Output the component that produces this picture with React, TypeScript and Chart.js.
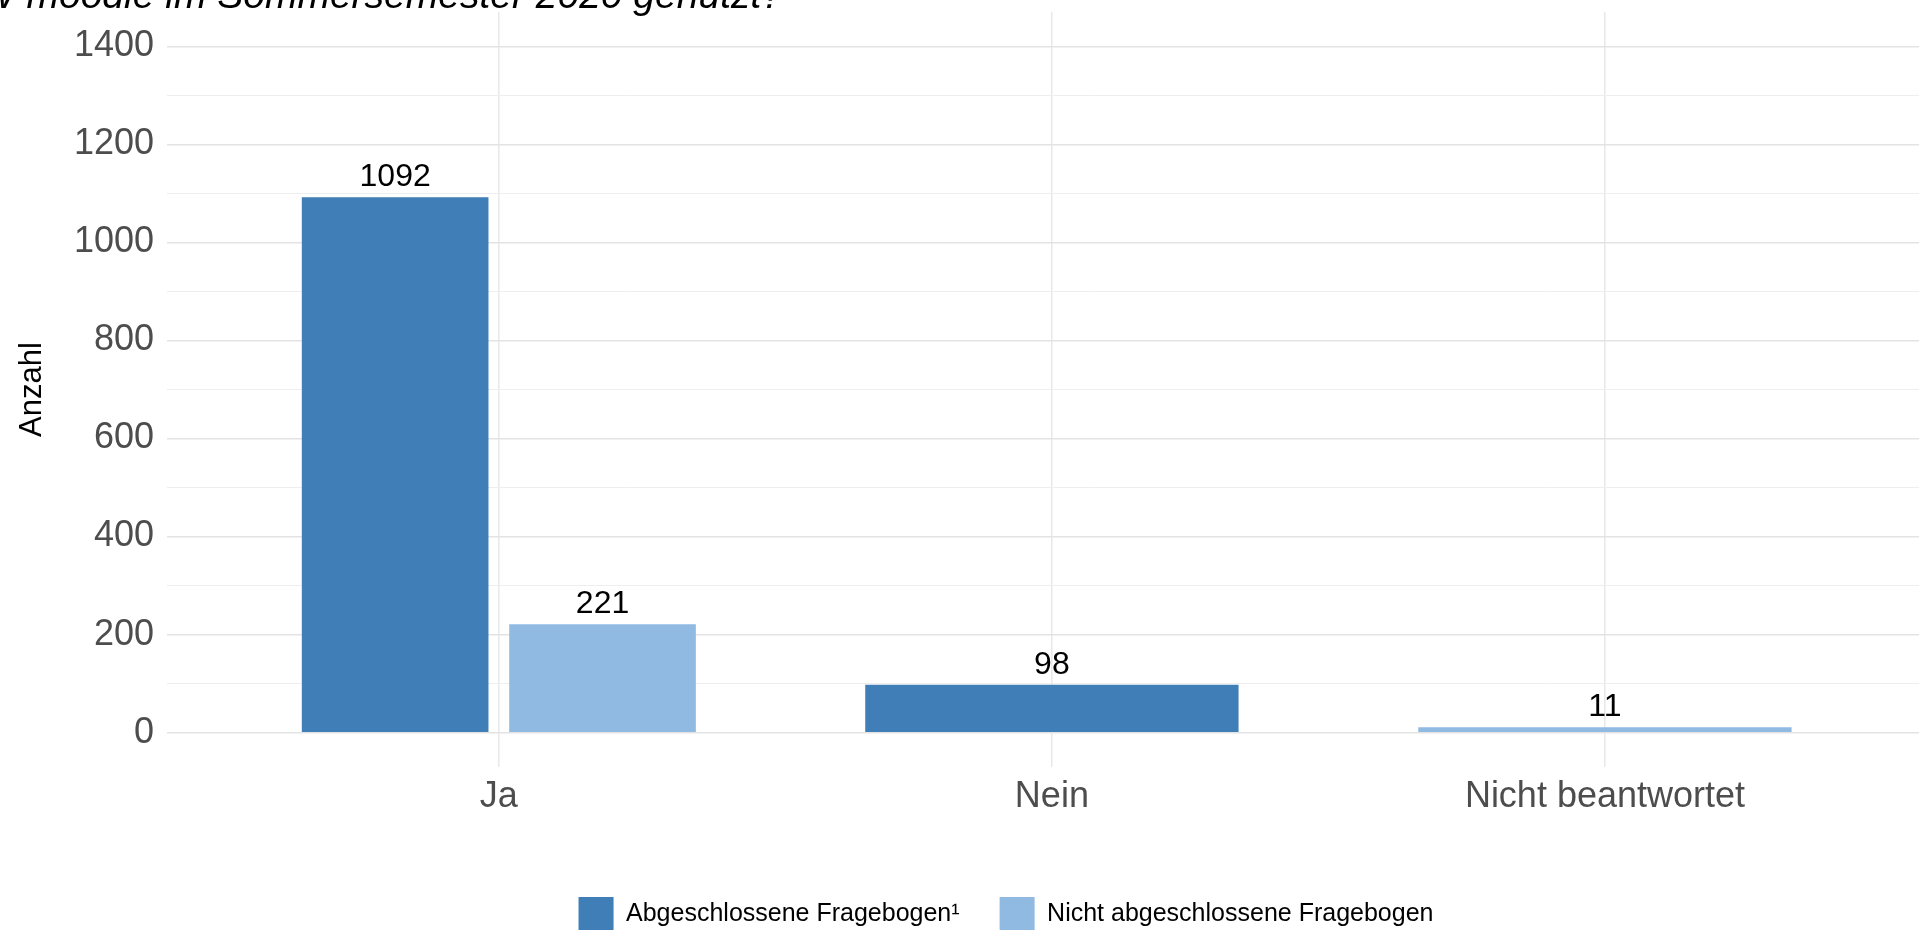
import React, { useEffect, useRef } from "react";
import { Chart, registerables } from "chart.js";

Chart.register(...registerables);

const titleText = "Haben Sie HAW moodle im Sommersemester 2020 genutzt?";
const categories = ["Ja", "Nein", "Nicht beantwortet"];
const categoryPositions = [0, 1, 2];
const seriesLabels = ["Abgeschlossene Fragebogen¹", "Nicht abgeschlossene Fragebogen"];
const abgeschlossen: (number | null)[] = [1092, 98, null];
const nichtAbgeschlossen: (number | null)[] = [221, null, 11];
const majorTicks = [0, 200, 400, 600, 800, 1000, 1200, 1400];
const minorTicks = [100, 300, 500, 700, 900, 1100, 1300];
const yAxisTitle = "Anzahl";

const FONT = "'Liberation Sans', Arial, Helvetica, sans-serif";
const DARK = "#3F7EB6";
const LIGHT = "#91BAE3";

const valueLabels = {
  id: "valueLabels",
  afterDatasetsDraw(chart: any) {
    const ctx = chart.ctx;
    ctx.save();
    ctx.font = `32px ${FONT}`;
    ctx.fillStyle = "#000000";
    ctx.textAlign = "center";
    ctx.textBaseline = "alphabetic";
    chart.data.datasets.forEach((ds: any, di: number) => {
      const meta = chart.getDatasetMeta(di);
      meta.data.forEach((bar: any, i: number) => {
        const v = ds.data[i].y;
        if (v === null || v === undefined) return;
        ctx.fillText(String(v), bar.x, bar.y - 11);
      });
    });
    ctx.restore();
  },
};

const zeroPadding = (s: any) => {
  s.paddingTop = 0;
  s.paddingBottom = 0;
  s.paddingLeft = 0;
  s.paddingRight = 0;
};

export default function App() {
  const canvasRef = useRef<HTMLCanvasElement | null>(null);

  useEffect(() => {
    if (!canvasRef.current) return;
    const toPoints = (arr: (number | null)[]) =>
      arr.map((v, i) => ({ x: categoryPositions[i], y: v }));
    const allYTicks = [...majorTicks, ...minorTicks].sort((a, b) => a - b);

    const chart = new Chart(canvasRef.current, {
      type: "bar",
      data: {
        datasets: [
          {
            label: seriesLabels[0],
            data: toPoints(abgeschlossen) as any,
            backgroundColor: DARK,
            borderWidth: 0,
            skipNull: true,
            categoryPercentage: 0.75,
            barPercentage: 0.9,
          } as any,
          {
            label: seriesLabels[1],
            data: toPoints(nichtAbgeschlossen) as any,
            backgroundColor: LIGHT,
            borderWidth: 0,
            skipNull: true,
            categoryPercentage: 0.75,
            barPercentage: 0.9,
          } as any,
        ],
      },
      options: {
        animation: false,
        responsive: false,
        maintainAspectRatio: false,
        devicePixelRatio: 1,
        layout: { padding: { left: 0, right: 0, top: 12, bottom: 0 } },
        scales: {
          x: {
            type: "linear",
            min: -0.6,
            max: 2.736,
            offset: false,
            afterBuildTicks: (s: any) => {
              s.ticks = categoryPositions.map((v) => ({ value: v }));
            },
            afterFit: (s: any) => {
              s.height = 90;
              zeroPadding(s);
            },
            ticks: {
              autoSkip: false,
              maxRotation: 0,
              minRotation: 0,
              padding: 8,
              color: "#4d4d4d",
              font: { size: 36, family: FONT },
              callback: (v: any) => {
                const idx = categoryPositions.indexOf(Number(v));
                return idx >= 0 ? categories[idx] : "";
              },
            },
            grid: { color: "#e8e8e8", lineWidth: 1.5, drawTicks: false, offset: false },
            border: { display: false },
          },
          y: {
            min: -70,
            max: 1470,
            afterBuildTicks: (s: any) => {
              s.ticks = allYTicks.map((v) => ({ value: v }));
            },
            afterFit: (s: any) => {
              s.width = 167;
              zeroPadding(s);
            },
            ticks: {
              padding: 13,
              color: "#4d4d4d",
              font: { size: 36, family: FONT },
              callback: (v: any) => (majorTicks.includes(Number(v)) ? String(v) : ""),
            },
            grid: {
              drawTicks: false,
              color: (c: any) => (majorTicks.includes(c.tick?.value) ? "#e3e3e3" : "#eeeeee"),
              lineWidth: (c: any) => (majorTicks.includes(c.tick?.value) ? 1.6 : 1),
            },
            border: { display: false },
            title: {
              display: true,
              text: yAxisTitle,
              color: "#000000",
              font: { size: 31, family: FONT },
              padding: { top: 14, bottom: 0 },
            },
          },
        },
        plugins: {
          legend: {
            position: "bottom",
            labels: {
              boxWidth: 35,
              boxHeight: 35,
              padding: 40,
              color: "#000000",
              font: { size: 25, family: FONT },
            },
          },
          tooltip: { enabled: false },
          title: { display: false },
        },
      } as any,
      plugins: [valueLabels],
    });
    return () => chart.destroy();
  }, []);

  return (
    <div
      style={{
        position: "fixed",
        left: 0,
        top: 0,
        width: 1919,
        height: 930,
        overflow: "hidden",
        background: "#ffffff",
      }}
    >
      <canvas
        ref={canvasRef}
        width={2012}
        height={942}
        style={{ position: "absolute", left: 0, top: 0, width: 2012, height: 942 }}
      />
      <div
        style={{
          position: "absolute",
          left: 0,
          top: -25,
          width: 783,
          height: 60,
          overflow: "hidden",
        }}
      >
        <span
          style={{
            position: "absolute",
            right: 0,
            top: 0,
            whiteSpace: "nowrap",
            fontFamily: FONT,
            fontStyle: "italic",
            fontSize: 39,
            lineHeight: "39px",
            color: "#000000",
          }}
        >
          {titleText}
        </span>
      </div>
    </div>
  );
}
